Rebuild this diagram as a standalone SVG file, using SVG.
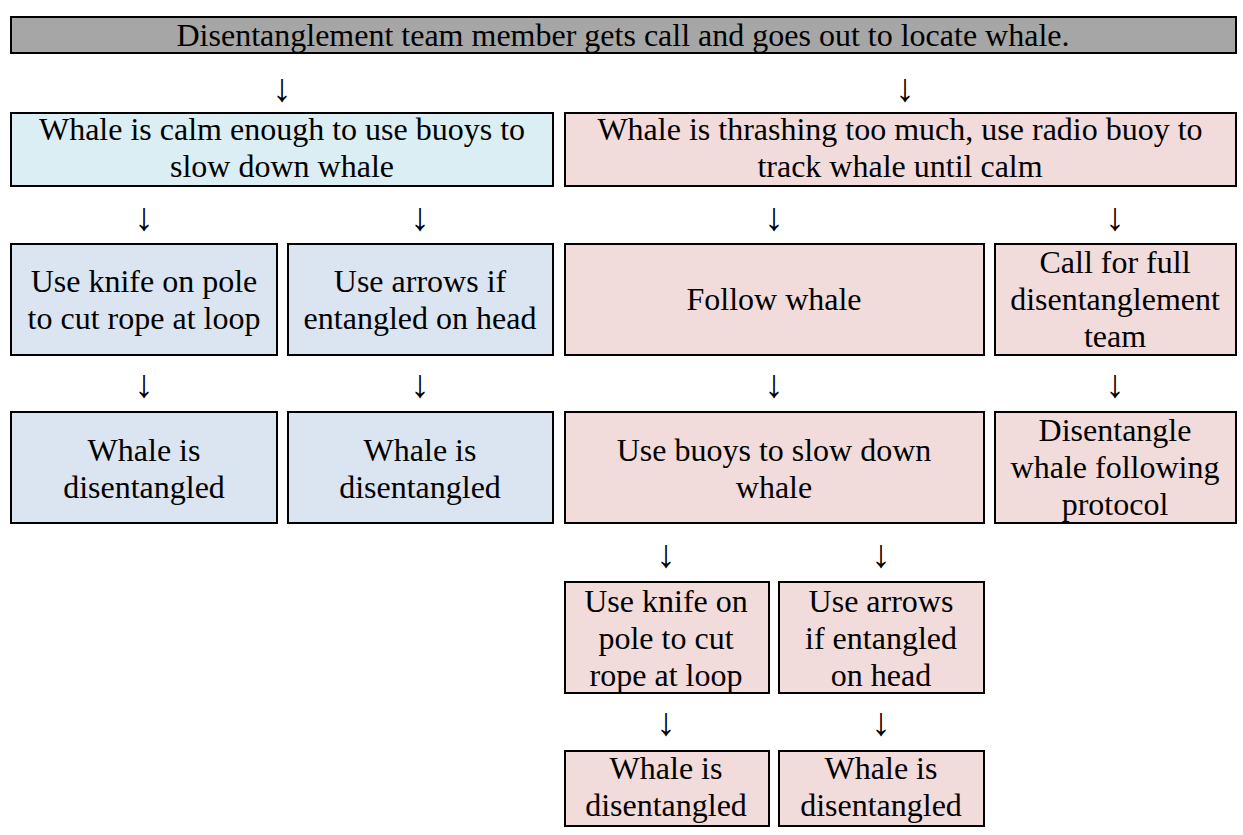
<svg xmlns="http://www.w3.org/2000/svg" width="1243" height="835" viewBox="0 0 1243 835">
  <style>
    .box { stroke: #000; stroke-width: 2; }
    .grey { fill: #a6a6a6; }
    .aqua { fill: #daeef3; }
    .blue { fill: #dbe5f1; }
    .pink { fill: #f2dcdb; }
    text { font-family: "Liberation Serif", "Times New Roman", serif; font-size: 32px; fill: #000; text-anchor: middle; }
    #connectors text { font-size: 39px; }
  </style>
  <rect width="1243" height="835" fill="#fff"/>

  <!-- connectors: downward arrow glyphs between rows -->
  <g id="connectors">
    <text x="282" y="101">↓</text>
    <text x="905" y="101">↓</text>
    <text x="144" y="230">↓</text>
    <text x="420" y="230">↓</text>
    <text x="774" y="230">↓</text>
    <text x="1115" y="230">↓</text>
    <text x="144" y="397">↓</text>
    <text x="420" y="397">↓</text>
    <text x="774" y="397">↓</text>
    <text x="1115" y="397">↓</text>
    <text x="666" y="567">↓</text>
    <text x="881" y="567">↓</text>
    <text x="666" y="735">↓</text>
    <text x="881" y="735">↓</text>
  </g>

  <g id="start">
    <rect class="box grey" x="11" y="17" width="1225" height="36"/>
    <text x="623" y="46">Disentanglement team member gets call and goes out to locate whale.</text>
  </g>

  <g id="calm">
    <rect class="box aqua" x="11" y="113" width="542" height="73"/>
    <text x="282" y="140">Whale is calm enough to use buoys to</text>
    <text x="282" y="177">slow down whale</text>
  </g>

  <g id="thrashing">
    <rect class="box pink" x="565" y="113" width="671" height="73"/>
    <text x="900" y="140">Whale is thrashing too much, use radio buoy to</text>
    <text x="900" y="177">track whale until calm</text>
  </g>

  <g id="calm-knife">
    <rect class="box blue" x="11" y="244" width="266" height="111"/>
    <text x="144" y="292">Use knife on pole</text>
    <text x="144" y="329">to cut rope at loop</text>
  </g>

  <g id="calm-arrows">
    <rect class="box blue" x="288" y="244" width="265" height="111"/>
    <text x="420" y="292">Use arrows if</text>
    <text x="420" y="329">entangled on head</text>
  </g>

  <g id="follow">
    <rect class="box pink" x="565" y="244" width="419" height="111"/>
    <text x="774" y="310">Follow whale</text>
  </g>

  <g id="call-team">
    <rect class="box pink" x="995" y="244" width="241" height="111"/>
    <text x="1115" y="273">Call for full</text>
    <text x="1115" y="310">disentanglement</text>
    <text x="1115" y="347">team</text>
  </g>

  <g id="calm-knife-done">
    <rect class="box blue" x="11" y="412" width="266" height="111"/>
    <text x="144" y="461">Whale is</text>
    <text x="144" y="498">disentangled</text>
  </g>

  <g id="calm-arrows-done">
    <rect class="box blue" x="288" y="412" width="265" height="111"/>
    <text x="420" y="461">Whale is</text>
    <text x="420" y="498">disentangled</text>
  </g>

  <g id="slow-down">
    <rect class="box pink" x="565" y="412" width="419" height="111"/>
    <text x="774" y="461">Use buoys to slow down</text>
    <text x="774" y="498">whale</text>
  </g>

  <g id="protocol">
    <rect class="box pink" x="995" y="412" width="241" height="111"/>
    <text x="1115" y="441">Disentangle</text>
    <text x="1115" y="478">whale following</text>
    <text x="1115" y="515">protocol</text>
  </g>

  <g id="track-knife">
    <rect class="box pink" x="565" y="582" width="204" height="111"/>
    <text x="666" y="612">Use knife on</text>
    <text x="666" y="649">pole to cut</text>
    <text x="666" y="686">rope at loop</text>
  </g>

  <g id="track-arrows">
    <rect class="box pink" x="779" y="582" width="205" height="111"/>
    <text x="881" y="612">Use arrows</text>
    <text x="881" y="649">if entangled</text>
    <text x="881" y="686">on head</text>
  </g>

  <g id="track-knife-done">
    <rect class="box pink" x="565" y="751" width="204" height="75"/>
    <text x="666" y="779">Whale is</text>
    <text x="666" y="816">disentangled</text>
  </g>

  <g id="track-arrows-done">
    <rect class="box pink" x="779" y="751" width="205" height="75"/>
    <text x="881" y="779">Whale is</text>
    <text x="881" y="816">disentangled</text>
  </g>
</svg>
